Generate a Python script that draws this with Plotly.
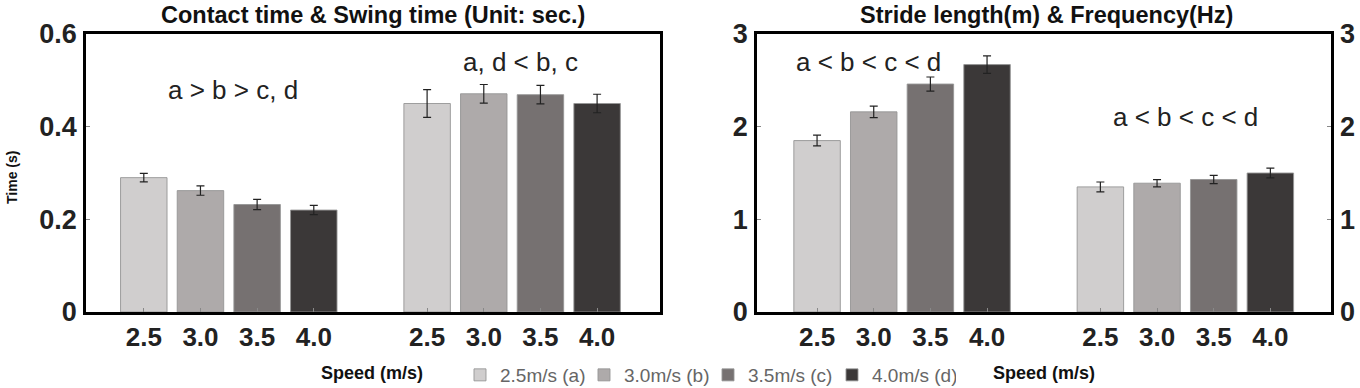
import plotly.graph_objects as go

# ---------------- data ----------------
speed_labels = ["2.5", "3.0", "3.5", "4.0"]
legend_names = ["2.5m/s (a)", "3.0m/s (b)", "3.5m/s (c)", "4.0m/s (d)"]
colors = ["#D0CECE", "#AEAAAA", "#767171", "#3B3838"]

contact = [0.290, 0.262, 0.232, 0.220]
contact_err = [0.009, 0.010, 0.011, 0.010]
swing = [0.450, 0.471, 0.469, 0.450]
swing_err = [0.030, 0.020, 0.020, 0.020]

stride = [1.85, 2.16, 2.46, 2.67]
stride_err = [0.058, 0.062, 0.076, 0.095]
freq = [1.35, 1.39, 1.43, 1.50]
freq_err = [0.053, 0.039, 0.044, 0.053]

group_pos = [0, 5]  # position of first bar in each group
tick_pos = [g + i for g in group_pos for i in range(len(speed_labels))]
tick_text = speed_labels * 2

FONT = "Liberation Sans, Arial, sans-serif"
W, H = 1360, 388

fig = go.Figure()

bar_w = 0.82
line = dict(color="rgba(150,150,150,0.9)", width=1)
err_style = dict(type="data", color="#222222", thickness=1.2, width=4, visible=True)

for i, name in enumerate(legend_names):
    # left panel: contact (group 1) and swing (group 2)
    fig.add_trace(go.Bar(
        x=[group_pos[0] + i, group_pos[1] + i], y=[contact[i], swing[i]],
        width=bar_w, marker=dict(color=colors[i], line=line),
        error_y=dict(array=[contact_err[i], swing_err[i]], **err_style),
        name=name, legendgroup=name, showlegend=True,
        xaxis="x", yaxis="y"))
    # right panel: stride length (left axis)
    fig.add_trace(go.Bar(
        x=[group_pos[0] + i], y=[stride[i]],
        width=bar_w, marker=dict(color=colors[i], line=line),
        error_y=dict(array=[stride_err[i]], **err_style),
        name=name, legendgroup=name, showlegend=False,
        xaxis="x2", yaxis="y2"))
    # right panel: frequency (right axis)
    fig.add_trace(go.Bar(
        x=[group_pos[1] + i], y=[freq[i]],
        width=bar_w, marker=dict(color=colors[i], line=line),
        error_y=dict(array=[freq_err[i]], **err_style),
        name=name, legendgroup=name, showlegend=False,
        xaxis="x2", yaxis="y3"))

ydom = [1 - 312 / H, 1 - 34 / H]
tickfont = dict(family=FONT, size=26, color="#222222", weight="bold")
ytickfont = dict(family=FONT, size=27, color="#222222", weight="bold")

xcommon = dict(tickmode="array", tickvals=tick_pos, ticktext=tick_text,
               ticks="inside", ticklen=4, tickcolor="#888888",
               showline=True, linecolor="black", linewidth=2.5, mirror=True,
               showgrid=False, zeroline=False, tickfont=tickfont,
               ticklabelstandoff=0, fixedrange=True, automargin=False)
ycommon = dict(ticks="inside", ticklen=4, tickcolor="#888888",
               showline=True, linecolor="black", linewidth=2.5, mirror=True,
               showgrid=False, zeroline=False, tickfont=ytickfont,
               ticklabelstandoff=1, fixedrange=True, automargin=False)

fig.update_layout(
    width=W, height=H,
    margin=dict(l=0, r=0, t=0, b=0, autoexpand=False),
    paper_bgcolor="white", plot_bgcolor="white",
    barmode="overlay",
    xaxis=dict(domain=[86 / W, 660 / W], range=[-1.02, 9.11], anchor="y", **xcommon),
    yaxis=dict(domain=ydom, range=[0, 0.6], dtick=0.2, anchor="x", **ycommon),
    xaxis2=dict(domain=[757 / W, 1331 / W], range=[-1.06, 9.07], anchor="y2", **xcommon),
    yaxis2=dict(domain=ydom, range=[0, 3], dtick=1, anchor="x2", **ycommon),
    yaxis3=dict(range=[0, 3], dtick=1, overlaying="y2", side="right", anchor="x2",
                ticks="inside", ticklen=4, tickcolor="#888888", showline=False,
                showgrid=False, zeroline=False, tickfont=ytickfont,
                ticklabelstandoff=8, fixedrange=True, automargin=False),
    legend=dict(orientation="h", x=460 / W, xanchor="left", y=1 - 375 / H, yanchor="middle",
                font=dict(family=FONT, size=19, color="#666666"),
                entrywidth=79, entrywidthmode="pixels", itemclick=False,
                bgcolor="rgba(0,0,0,0)", traceorder="normal"),
    showlegend=True,
)

def ann(text, x, y, size, bold=False, color="#111111", angle=0, xref="paper", yref="paper"):
    fig.add_annotation(text=text, x=x, y=y, xref=xref, yref=yref, showarrow=False,
                       xanchor="center", yanchor="middle", textangle=angle,
                       font=dict(family=FONT, size=size, color=color,
                                 weight="bold" if bold else "normal"))

# panel titles
ann("Contact time & Swing time (Unit: sec.)", 373 / W, 1 - 15 / H, 23.5, bold=True)
ann("Stride length(m) & Frequency(Hz)", 1046 / W, 1 - 15 / H, 23.5, bold=True)
# axis titles
ann("Time (s)", 12 / W, 1 - 178 / H, 14, bold=True, angle=-90)
ann("Speed (m/s)", 372 / W, 1 - 373 / H, 18, bold=True)
ann("Speed (m/s)", 1044 / W, 1 - 373 / H, 18, bold=True)
# significance annotations (data coordinates)
ann("a > b > c, d", 1.57, 0.48, 26, color="#222222", xref="x", yref="y")
ann("a, d < b, c", 6.65, 0.54, 26, color="#222222", xref="x", yref="y")
ann("a < b < c < d", 0.9, 2.70, 26, color="#222222", xref="x2", yref="y2")
ann("a < b < c < d", 6.5, 2.10, 26, color="#222222", xref="x2", yref="y2")

fig.write_html("out.html", config={"displayModeBar": False},
               post_script="document.body.style.margin='0px';")
